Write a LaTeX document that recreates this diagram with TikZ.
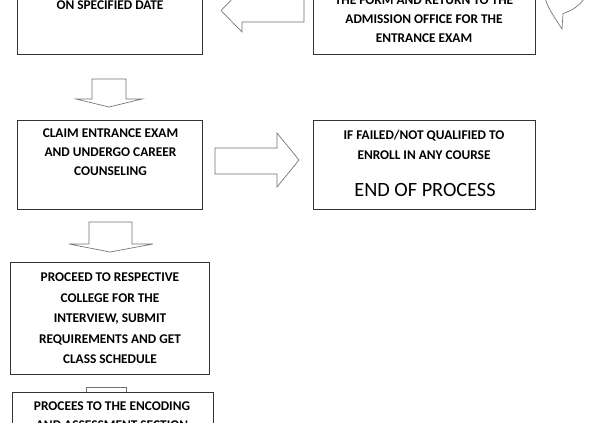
\documentclass[tikz,border=0pt]{standalone}
\usepackage{fontspec}
\setmainfont{Carlito}
\usepackage{tikz}
\tikzstyle{stepbox}=[draw=black!80,line width=0.7pt,fill=white,inner sep=0pt]
\tikzstyle{steptext}=[align=center,inner sep=0pt,anchor=north,font=\bfseries\fontsize{10}{14.25}\selectfont]
\tikzstyle{blockarrow}=[draw=black!55,line width=0.5pt,fill=white,line join=miter]

\begin{document}
\begin{tikzpicture}[x=0.75pt,y=-0.75pt]
    \useasboundingbox (0,0) rectangle (609,422);
    % boxes of the flow
    \node[stepbox,minimum width=138.75pt,minimum height=66.75pt] (datebox) at (109.5,9.5) {};
    \node[stepbox,minimum width=166.5pt,minimum height=66.75pt] (formbox) at (424,9.5) {};
    \node[stepbox,minimum width=138.75pt,minimum height=66.75pt] (claimbox) at (109.5,164.5) {};
    \node[stepbox,minimum width=166.5pt,minimum height=66.75pt] (endbox) at (424,164.5) {};
    \node[stepbox,minimum width=149.25pt,minimum height=84pt] (proceedbox) at (109.5,318) {};

    % texts
    \node[steptext] (datetext) at (110,0.7) {ON SPECIFIED DATE};
    \node[steptext] (formtext) at (424,-4.3)
        {THE FORM AND RETURN TO THE\\ADMISSION OFFICE FOR THE\\ENTRANCE EXAM};
    \node[steptext] (claimtext) at (110.5,128.7)
        {CLAIM ENTRANCE EXAM\\AND UNDERGO CAREER\\COUNSELING};
    \node[steptext,font=\bfseries\fontsize{10}{15}\selectfont] (failtext) at (424,129.7)
        {IF FAILED/NOT QUALIFIED TO\\ENROLL IN ANY COURSE};
    \node[steptext,font=\fontsize{15.2}{18}\selectfont] (endtext) at (425,183.5) {END OF PROCESS};
    \node[steptext,font=\bfseries\fontsize{10}{15.4}\selectfont] (proceedtext) at (110,272.7)
        {PROCEED TO RESPECTIVE\\COLLEGE FOR THE\\INTERVIEW, SUBMIT\\REQUIREMENTS AND GET\\CLASS SCHEDULE};

    % block arrows
    \draw[blockarrow] (304,-1) -- (304,22) -- (242,22) -- (242,32) -- (221,10.5) -- (242,-11) -- (242,-1) -- cycle;
    \draw[blockarrow] (544,-6) .. controls (546,6) and (555,18) .. (562,29) -- (563,13.5)
        .. controls (571,11) and (580,6) .. (586,-4);
    \draw[blockarrow] (92,79) -- (126,79) -- (126,99) -- (142,99) -- (109,107) -- (76,99) -- (92,99) -- cycle;
    \draw[blockarrow] (215,148) -- (277,148) -- (277,133) -- (299,160) -- (277,187) -- (277,174) -- (215,174) -- cycle;
    \draw[blockarrow] (89,222) -- (132,222) -- (132,244) -- (153,244) -- (110,252) -- (69,244) -- (89,244) -- cycle;
    \draw[blockarrow] (86,387) -- (126,387) -- (126,400) -- (86,400) -- cycle;

    % last box, over the small arrow
    \node[stepbox,minimum width=150.75pt,minimum height=84pt] (encodebox) at (112.5,448) {};
    \node[steptext] (encodetext) at (112,401.7)
        {PROCEES TO THE ENCODING\\AND ASSESSMENT SECTION};
\end{tikzpicture}
\end{document}
